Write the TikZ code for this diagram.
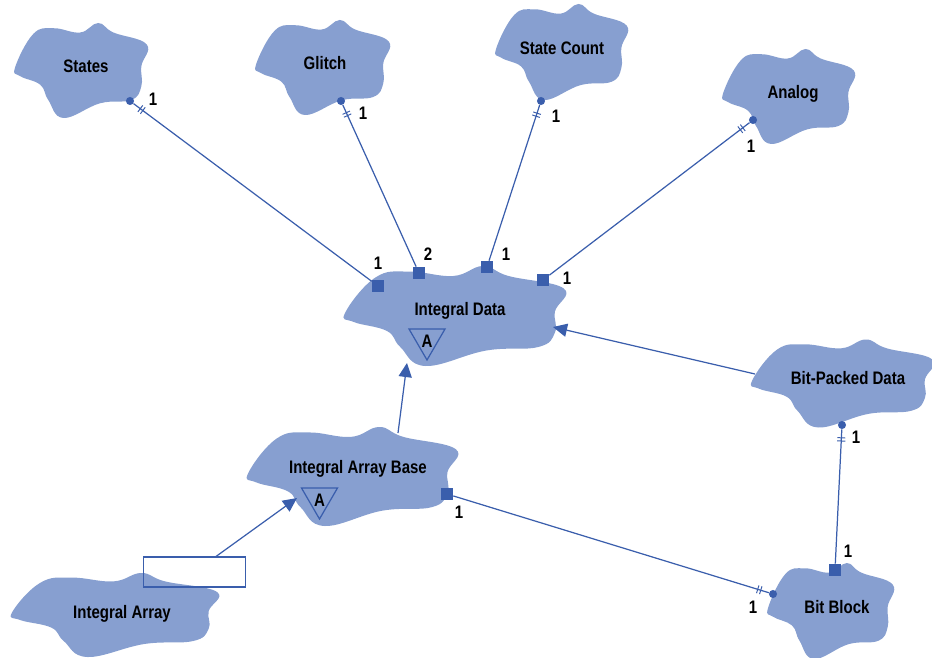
\documentclass[tikz,border=0pt]{standalone}
\usepackage{fontspec}
\setmainfont{Liberation Sans}[FakeStretch=0.83]
\usetikzlibrary{arrows.meta,decorations.markings}

\definecolor{cloudfill}{RGB}{135,159,208}
\definecolor{umlblue}{RGB}{58,94,172}

\tikzset{
  classname/.style={font=\bfseries\fontsize{10.3}{12}\selectfont, inner sep=0pt, text height=7.4pt, text depth=0pt},
  mult/.style={classname},
  enddot/.style={circle, fill=umlblue, inner sep=0pt, minimum size=4.6pt},
  endsq/.style={rectangle, fill=umlblue, inner sep=0pt, minimum size=6.8pt},
  assoc/.style={draw=umlblue, line width=0.7pt,
    postaction={decorate, decoration={markings, mark=at position 5.7pt with
      {\draw[umlblue, line width=0.55pt] (-0.9pt,-2.3pt) -- (-0.9pt,2.3pt) (0.9pt,-2.3pt) -- (0.9pt,2.3pt);}}}},
  inherit/.style={draw=umlblue, line width=0.7pt, -{Triangle[length=8pt,width=7.5pt]}},
}

\begin{document}
\begin{tikzpicture}[x={(0.02cm,0)}, y={(0,-0.02cm)}]
  \useasboundingbox (0,0) rectangle (932,658);
  % class clouds: centre / half width / half height
  \foreach \x/\y/\w/\h in {81.5/70.5/66.5/47.5, 323/67.5/67/47.5, 562/52/66/48,
      789/96.5/66/47.5, 455.5/316/110.5/50, 353/476.5/105/49.5, 843/383.5/91/44,
      115.5/615/103.5/42, 831/611/63/48}
  {
    \begin{scope}[shift={(\x,\y)}, xscale=\w, yscale=\h]
      \fill[cloudfill] plot[smooth cycle, tension=0.7] coordinates {(-1,-0.06) (-0.725,-0.77)
        (-0.42,-0.89) (-0.02,-0.80) (0.25,-1) (0.48,-0.80) (0.98,-0.55) (0.90,-0.09)
        (0.90,0.33) (0.75,0.62) (0.28,0.69) (-0.27,1) (-0.50,0.62) (-0.62,0.30) (-0.92,0.12)};
    \end{scope}
  }
  \foreach \n/\x/\y/\t in {states/86/66/States, glitch/325/63/Glitch, count/562/48/State Count,
      analog/793/92/Analog, data/460/309/Integral Data, base/358/467/Integral Array Base,
      packed/848/378/Bit-Packed Data, array/122/612/Integral Array, block/837/607/Bit Block}
    \node[classname] (\n) at (\x,\y) {\t};

  % abstract adornments
  \foreach \n/\x/\y in {data-a/427/329, base-a/319.5/488}
  {
    \draw[umlblue, line width=0.7pt] ({\x-18},\y) -- ({\x+18},\y) -- (\x,{\y+31}) -- cycle;
    \node[classname] (\n) at (\x,{\y+12}) {A};
  }

  % association ends
  \foreach \n/\x/\y in {states-e/130/101, glitch-e/341/101, count-e/541/101,
      analog-e/753/120, packed-e/842/425, block-e/773/594}
    \node[enddot] (\n) at (\x,\y) {};
  \foreach \n/\x/\y in {data-s1/378/286, data-s2/419/273, data-s3/487/267,
      data-s4/543/280, base-s/447/494, block-s/835/570}
    \node[endsq] (\n) at (\x,\y) {};
  \foreach \a/\b in {states-e/data-s1, glitch-e/data-s2, count-e/data-s3,
      analog-e/data-s4, block-e/base-s, packed-e/block-s}
    \draw[assoc] (\a) -- (\b);

  % inheritance
  \node[draw=umlblue, line width=0.7pt, minimum width=58.4pt, minimum height=17pt, inner sep=0pt] (array-box) at (194.5,572) {};
  \coordinate (base-in) at (297,498);
  \coordinate (base-up) at (398,433);
  \coordinate (data-in1) at (407,363);
  \coordinate (packed-out) at (755,374);
  \coordinate (data-in2) at (553,327);
  \draw[inherit] (array-box) -- (base-in);
  \draw[inherit] (base-up) -- (data-in1);
  \draw[inherit] (packed-out) -- (data-in2);

  % multiplicities
  \foreach \n/\x/\y/\t in {m1/153/99/1, m2/363/113/1, m3/556/116/1, m4/751/146/1,
      m5/378/263/1, m6/428/254/2, m7/506/254/1, m8/567/278/1, m9/459/512/1,
      m10/856/437/1, m11/848/551/1, m12/753/607/1}
    \node[mult] (\n) at (\x,\y) {\t};
\end{tikzpicture}
\end{document}
